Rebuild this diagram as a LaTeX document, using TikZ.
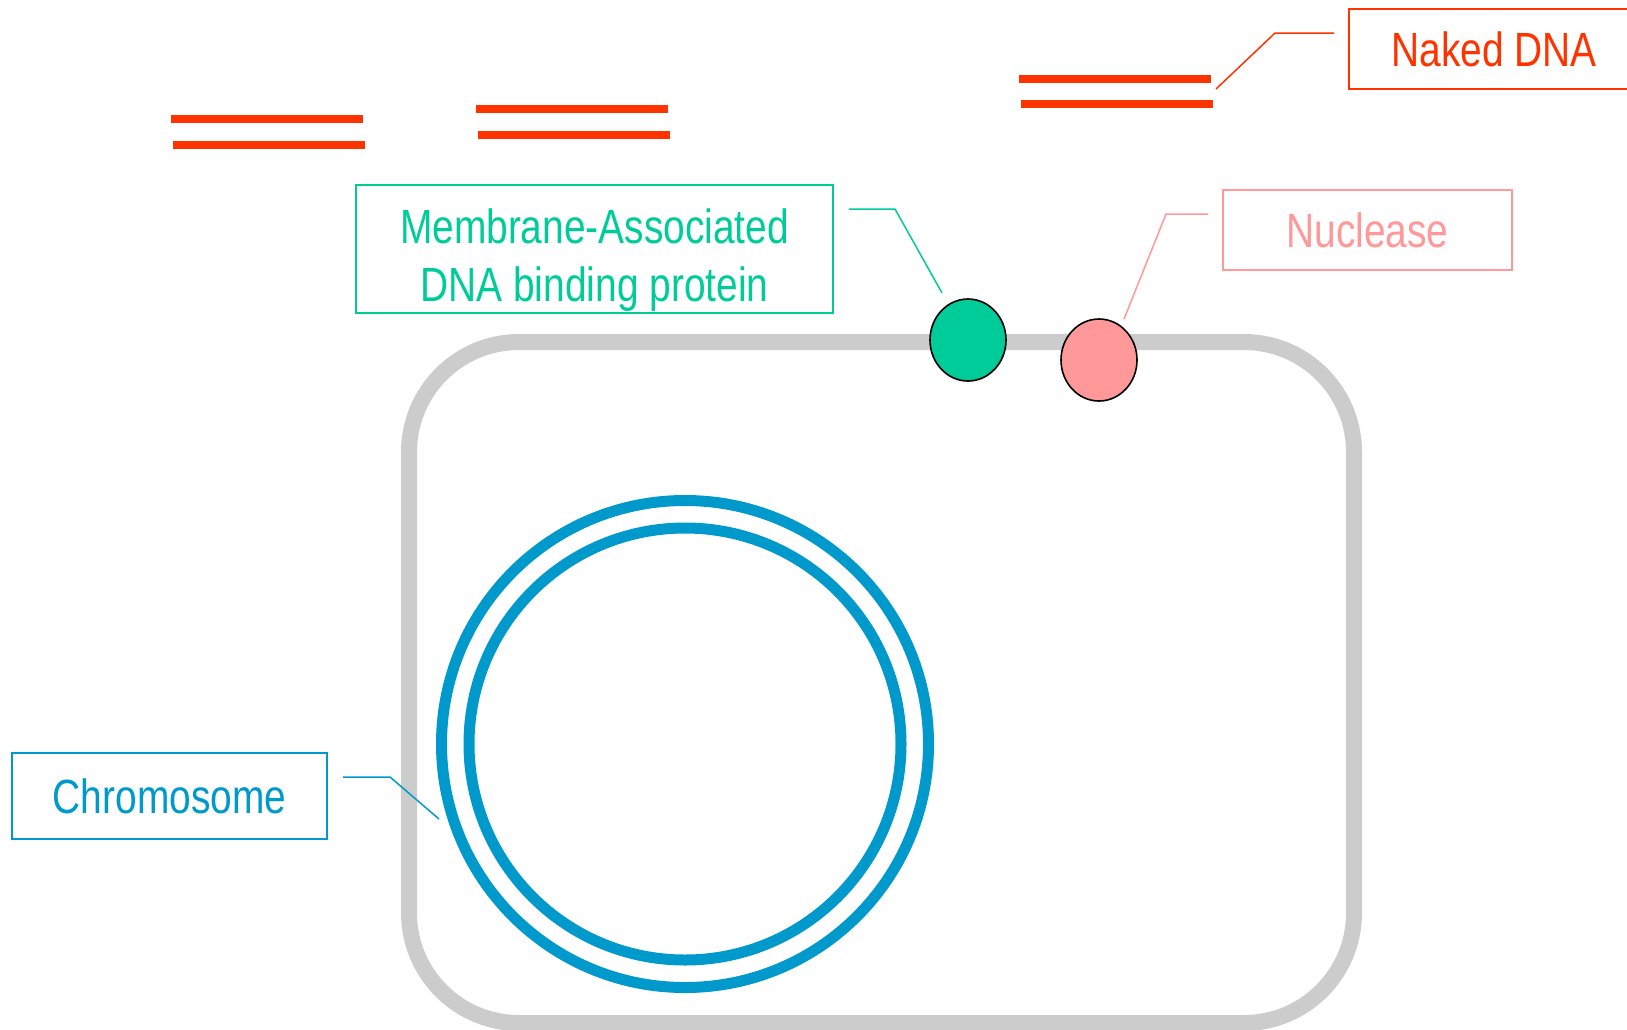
\documentclass[tikz,border=0pt]{standalone}
\usepackage{fontspec}
\newfontfamily\lblfont{Liberation Sans}[FakeStretch=0.81]
\usetikzlibrary{shapes.geometric}
\definecolor{dnared}{HTML}{FF3300}
\definecolor{protgreen}{HTML}{00CC99}
\definecolor{nucpink}{HTML}{FF9999}
\definecolor{chromblue}{HTML}{0099CC}
\definecolor{wallgray}{HTML}{CCCCCC}
\tikzset{
  lbl/.style={draw=#1, text=#1, line width=1pt, inner sep=0pt,
    font=\lblfont\fontsize{24}{29}\selectfont, align=center},
  onelinelbl/.style={lbl=#1, text height=17.2pt, text depth=0pt},
  lbltext/.style={text=#1, inner sep=0pt,
    font=\lblfont\fontsize{24}{29}\selectfont, align=center},
  leader/.style={draw=#1, line width=0.75pt},
  strand/.style={draw=dnared, line width=4pt},
  wall/.style={draw=wallgray, line width=8pt, rounded corners=55pt},
  ring/.style={draw=chromblue, line width=5.5pt},
  protein/.style={ellipse, draw=black, line width=0.8pt, fill=#1,
    minimum width=38pt, minimum height=41pt, inner sep=0pt}
}
\begin{document}
\begin{tikzpicture}[x=0.5pt, y=-0.5pt]
  \path[use as bounding box] (0,0) rectangle (1627,1029);
  \clip (0,0) rectangle (1627,1029);

  % cell wall
  \draw[wall] (409,342) rectangle (1354,1023);

  % circular chromosome (double strand)
  \draw[ring] (685,744) circle [radius=121.75pt];
  \draw[ring] (685,744) circle [radius=108pt];

  % membrane proteins
  \node[protein=protgreen] (bind) at (968,340) {};
  \node[protein=nucpink] (nuc) at (1099,360) {};

  % free DNA fragments
  \coordinate (a1) at (171,119); \coordinate (a2) at (363,119);
  \coordinate (a3) at (173,145); \coordinate (a4) at (365,145);
  \coordinate (b1) at (476,109); \coordinate (b2) at (668,109);
  \coordinate (b3) at (478,135); \coordinate (b4) at (670,135);
  \coordinate (c1) at (1019,79); \coordinate (c2) at (1211,79);
  \coordinate (c3) at (1021,104); \coordinate (c4) at (1213,104);
  \draw[strand] (a1) -- (a2) (a3) -- (a4);
  \draw[strand] (b1) -- (b2) (b3) -- (b4);
  \draw[strand] (c1) -- (c2) (c3) -- (c4);

  % labels
  \node[onelinelbl=dnared, minimum width=145pt, minimum height=40pt]
    (nakedlbl) at (1494,49) {Naked DNA};
  \node[lbl=protgreen, minimum width=238.5pt, minimum height=64pt]
    (bindlbl) at (594.5,248.5) {};
  \node[lbltext=protgreen] (bindtxt) at (594.5,260.5)
    {Membrane-Associated\\DNA binding protein};
  \node[onelinelbl=nucpink, minimum width=144.5pt, minimum height=40pt]
    (nuclbl) at (1367.5,230) {Nuclease};
  \node[onelinelbl=chromblue, minimum width=157.5pt, minimum height=43pt]
    (chromlbl) at (169.5,796) {Chromosome};

  % leader lines
  \coordinate (nk0) at (1334,33); \coordinate (nk1) at (1275,33);
  \coordinate (nk2) at (1216,89);
  \draw[leader=dnared] (nk0) -- (nk1) -- (nk2);

  \coordinate (bd0) at (849,209); \coordinate (bd1) at (895,209);
  \coordinate (bd2) at (942,293);
  \draw[leader=protgreen] (bd0) -- (bd1) -- (bd2);

  \coordinate (nc0) at (1208,214); \coordinate (nc1) at (1166,214);
  \coordinate (nc2) at (1124,319);
  \draw[leader=nucpink] (nc0) -- (nc1) -- (nc2);

  \coordinate (ch0) at (343,777); \coordinate (ch1) at (390,777);
  \coordinate (ch2) at (439,819);
  \draw[leader=chromblue] (ch0) -- (ch1) -- (ch2);
\end{tikzpicture}
\end{document}
